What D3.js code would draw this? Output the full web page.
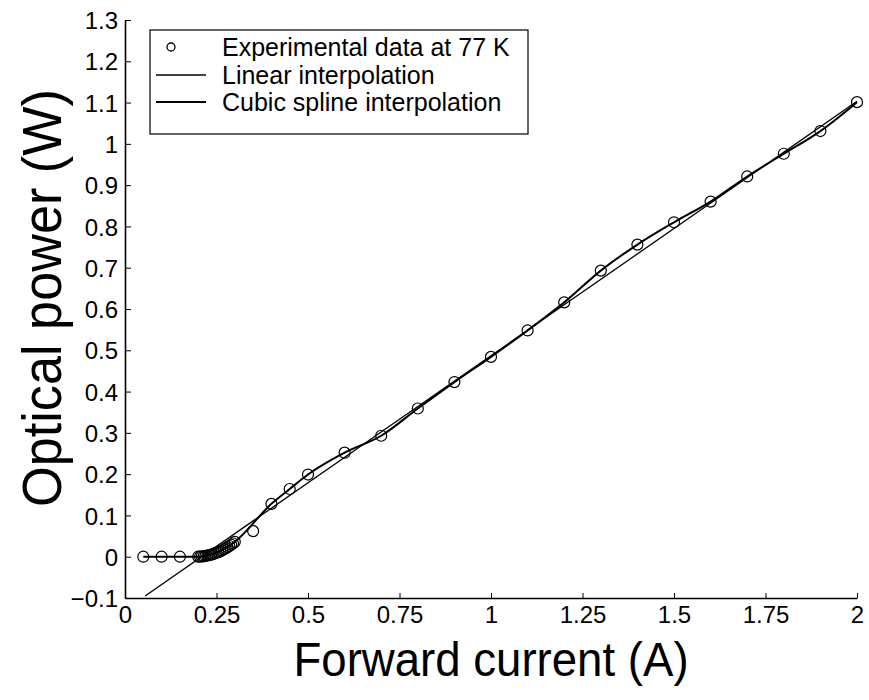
<!DOCTYPE html>
<html>
<head>
<meta charset="utf-8">
<script src="https://cdn.jsdelivr.net/npm/d3@7"></script>
<style>
  html, body { margin: 0; padding: 0; background: #fff; }
  svg { display: block; font-family: "Liberation Sans", Arial, Helvetica, sans-serif; }
</style>
</head>
<body>
<svg id="chart" width="869" height="700"></svg>
<script>
// ---- data ----
const currentA = [0.05, 0.10, 0.15,
  0.200, 0.205, 0.210, 0.215, 0.220, 0.225, 0.230, 0.235, 0.240, 0.245, 0.250,
  0.255, 0.260, 0.265, 0.270, 0.275, 0.280, 0.285, 0.290, 0.295, 0.300,
  0.35, 0.40, 0.45, 0.50, 0.60, 0.70, 0.80, 0.90, 1.00, 1.10, 1.20, 1.30,
  1.40, 1.50, 1.60, 1.70, 1.80, 1.90, 2.00];
const powerW = [0.000, 0.000, 0.000,
  0.000, 0.000, 0.001, 0.001, 0.002, 0.003, 0.004, 0.005, 0.006, 0.008, 0.010,
  0.011, 0.013, 0.015, 0.018, 0.020, 0.023, 0.026, 0.029, 0.032, 0.036,
  0.062, 0.128, 0.164, 0.199, 0.252, 0.293, 0.359, 0.423, 0.484, 0.548, 0.616, 0.693,
  0.756, 0.810, 0.860, 0.921, 0.976, 1.031, 1.101];

// cubic spline curve nodes
const splineX = [0.05, 0.10, 0.15, 0.20, 0.25, 0.30, 0.40, 0.45, 0.50, 0.60, 0.70, 0.80,
  0.90, 1.00, 1.10, 1.20, 1.30, 1.40, 1.50, 1.60, 1.70, 1.80, 1.90, 2.00];
const splineY = [0.000, 0.000, 0.000, 0.000, 0.010, 0.036, 0.128, 0.164, 0.199, 0.252, 0.293, 0.359,
  0.423, 0.484, 0.548, 0.616, 0.693, 0.756, 0.810, 0.860, 0.921, 0.976, 1.031, 1.101];

// linear line end points
const linearX = [0.055, 2.00];
const linearY = [-0.095, 1.103];

const xTicks = [0, 0.25, 0.5, 0.75, 1, 1.25, 1.5, 1.75, 2];
const yTicks = [-0.1, 0, 0.1, 0.2, 0.3, 0.4, 0.5, 0.6, 0.7, 0.8, 0.9, 1, 1.1, 1.2, 1.3];
const legendLabels = ["Experimental data at 77 K", "Linear interpolation", "Cubic spline interpolation"];
const xTitle = "Forward current (A)";
const yTitle = "Optical power (W)";

// ---- layout ----
const svg = d3.select("#chart");
const mLeft = 125, mRight = 857, mTop = 20, mBottom = 598;

const x = d3.scaleLinear().domain([0, 2]).range([mLeft, mRight]);
const y = d3.scaleLinear().domain([-0.1, 1.3]).range([mBottom, mTop]);

const fmt = v => (v < 0 ? "\u2212" + Math.abs(v) : String(v));

// axes
const xAxis = d3.axisBottom(x).tickValues(xTicks).tickFormat(fmt)
  .tickSizeInner(-5).tickSizeOuter(0).tickPadding(8);
const yAxis = d3.axisLeft(y).tickValues(yTicks).tickFormat(fmt)
  .tickSizeInner(-6).tickSizeOuter(0).tickPadding(7);

const gx = svg.append("g").attr("transform", `translate(0,${mBottom})`).call(xAxis);
const gy = svg.append("g").attr("transform", `translate(${mLeft},0)`).call(yAxis);
[gx, gy].forEach(g => {
  g.select(".domain").attr("stroke", "#000").attr("stroke-width", 1.6);
  g.selectAll(".tick line").attr("stroke", "#000").attr("stroke-width", 1);
  g.selectAll(".tick text").attr("fill", "#000").style("font-size", "24px")
    .style("font-family", "'Liberation Sans', Arial, sans-serif");
});
gy.selectAll(".tick text").attr("dy", "0.36em");

// linear line
const lineGen = d3.line().x(d => x(d[0])).y(d => y(d[1]));
svg.append("path")
  .datum(linearX.map((v, i) => [v, linearY[i]]))
  .attr("d", lineGen)
  .attr("fill", "none").attr("stroke", "#000").attr("stroke-width", 1.3);

// cubic spline
const splineGen = d3.line().curve(d3.curveMonotoneX).x(d => x(d[0])).y(d => y(d[1]));
svg.append("path")
  .datum(splineX.map((v, i) => [v, splineY[i]]))
  .attr("d", splineGen)
  .attr("fill", "none").attr("stroke", "#000").attr("stroke-width", 2);

// experimental points
svg.append("g").selectAll("circle")
  .data(currentA.map((v, i) => [v, powerW[i]]))
  .join("circle")
  .attr("cx", d => x(d[0])).attr("cy", d => y(d[1]))
  .attr("r", 5.5)
  .attr("fill", "none").attr("stroke", "#000").attr("stroke-width", 1.2);

// legend
const lg = svg.append("g");
lg.append("rect").attr("x", 150).attr("y", 30).attr("width", 378).attr("height", 104)
  .attr("fill", "#fff").attr("stroke", "#000").attr("stroke-width", 1.2);
const rowY = [47, 75, 102];
lg.append("circle").attr("cx", 171).attr("cy", rowY[0]).attr("r", 4)
  .attr("fill", "none").attr("stroke", "#000").attr("stroke-width", 1.3);
lg.append("line").attr("x1", 156).attr("x2", 206).attr("y1", rowY[1]).attr("y2", rowY[1])
  .attr("stroke", "#000").attr("stroke-width", 1.3);
lg.append("line").attr("x1", 156).attr("x2", 206).attr("y1", rowY[2]).attr("y2", rowY[2])
  .attr("stroke", "#000").attr("stroke-width", 2);
lg.selectAll("text.lab").data(legendLabels).join("text")
  .attr("class", "lab")
  .attr("x", 222).attr("y", (d, i) => rowY[i]).attr("dy", "0.36em")
  .style("font-size", "25px").attr("fill", "#000")
  .text(d => d);

// axis titles
svg.append("text")
  .attr("transform", `translate(${(mLeft + mRight) / 2},676) scale(0.95,1)`)
  .attr("text-anchor", "middle")
  .style("font-size", "48px").attr("fill", "#000")
  .text(xTitle);
svg.append("text")
  .attr("transform", `translate(61,298) rotate(-90) scale(0.95,1)`)
  .attr("text-anchor", "middle")
  .style("font-size", "55px").attr("fill", "#000")
  .text(yTitle);
</script>
</body>
</html>
